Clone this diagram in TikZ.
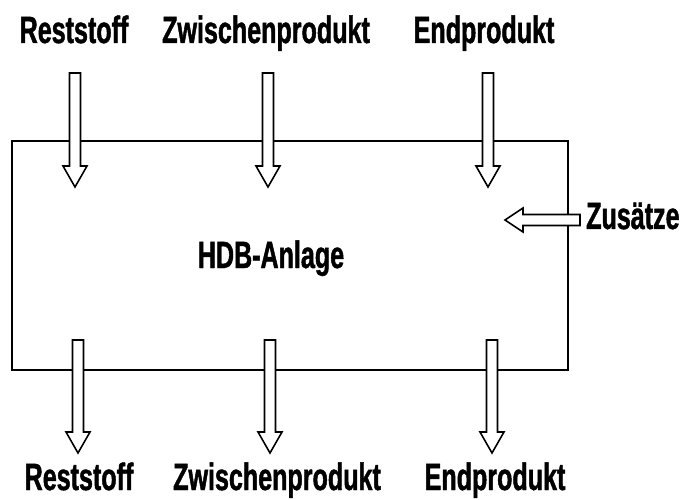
\documentclass[tikz,border=0pt]{standalone}
\usepackage{fontspec}
\setmainfont[FakeStretch=0.66, BoldFeatures={FakeBold=1.2}]{Liberation Sans}
\begin{document}
\begin{tikzpicture}[
  x=1pt,
  y=-1pt,
  font=\fontsize{38}{40}\selectfont\bfseries,
  frame/.style={black, line width=1.6pt},
  hollow/.style={draw=black, fill=white, line width=1.6pt, line join=miter},
  stream/.style={anchor=base, inner sep=0pt},
]
  \useasboundingbox (0,0) rectangle (683,500);

  % Anlage
  \draw[frame] (12,141) rectangle (568,370);
  \node[stream] (anlage) at (271,268) {HDB-Anlage};

  % Eingang
  \node[stream] (rest-in) at (74,43) {Reststoff};
  \node[stream] (zwischen-in) at (266,43) {Zwischenprodukt};
  \node[stream] (end-in) at (484,43) {Endprodukt};
  \foreach \x in {75,268,488} {
    \draw[hollow] (\x-5.5,73) -- (\x+5.5,73) -- (\x+5.5,166) -- (\x+12,166)
      -- (\x,187) -- (\x-12,166) -- (\x-5.5,166) -- cycle;
  }

  % Ausgang
  \node[stream] (rest-out) at (79,490) {Reststoff};
  \node[stream] (zwischen-out) at (277,490) {Zwischenprodukt};
  \node[stream] (end-out) at (495,490) {Endprodukt};
  \foreach \x in {78,270,492} {
    \draw[hollow] (\x-5.5,340) -- (\x+5.5,340) -- (\x+5.5,432) -- (\x+12,432)
      -- (\x,453) -- (\x-12,432) -- (\x-5.5,432) -- cycle;
  }

  % Zusaetze
  \node[stream, anchor=base west] (zusatz) at (586,229) {Zusätze};
  \draw[hollow] (580,214.5) -- (523,214.5) -- (523,208) -- (505,220)
    -- (523,232) -- (523,225.5) -- (580,225.5) -- cycle;
\end{tikzpicture}
\end{document}
